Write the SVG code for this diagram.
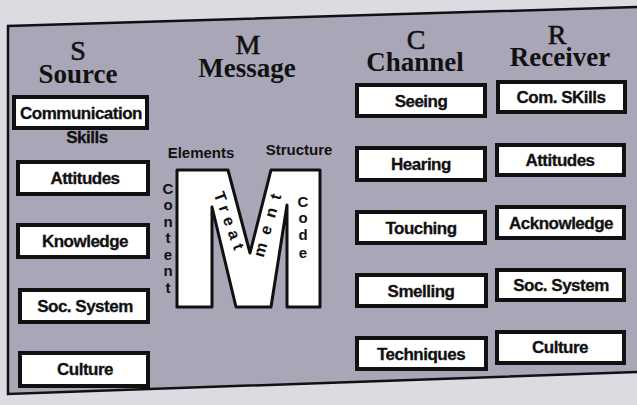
<svg xmlns="http://www.w3.org/2000/svg" width="637" height="405" viewBox="0 0 637 405">
<style>
.box{fill:#ffffff;stroke:#111111;stroke-width:4}
.lbl{font-family:"Liberation Sans",Arial,sans-serif;font-weight:bold;font-size:17px;fill:#111111;stroke:#111111;stroke-width:0.3;text-anchor:middle;letter-spacing:-0.5px}
.big{font-family:"Liberation Serif","Times New Roman",serif;font-size:28px;fill:#111111;stroke:#111111;stroke-width:0.6;text-anchor:middle}
.ttl{font-family:"Liberation Serif","Times New Roman",serif;font-weight:bold;font-size:27px;fill:#111111;text-anchor:middle}
.sm{font-family:"Liberation Sans",Arial,sans-serif;font-weight:bold;font-size:15px;fill:#111111;text-anchor:middle}
.smv{font-family:"Liberation Sans",Arial,sans-serif;font-weight:bold;font-size:16px;fill:#111111}
.frame{fill:none;stroke:#111111;stroke-width:2.5}
</style>
<rect x="0" y="0" width="637" height="405" fill="#dddbe2"/>
<polygon points="8,26 637,7 637,372 8,394" fill="#a9a7b7"/>
<polyline class="frame" points="637,7 8,26 8,394 637,372"/>

<g id="headers">
<text class="big" x="78" y="60">S</text>
<text class="ttl" x="78" y="83">Source</text>
<text class="big" x="248" y="54">M</text>
<text class="ttl" x="247" y="77">Message</text>
<text class="big" x="416" y="49">C</text>
<text class="ttl" x="415" y="71">Channel</text>
<text class="big" x="557" y="44">R</text>
<text class="ttl" x="560" y="66">Receiver</text>
</g>

<g id="source">
<g id="s1"><rect class="box" x="14" y="97" width="133" height="31"/><text class="lbl" x="81" y="119">Communication</text><text class="lbl" x="87" y="143">Skills</text></g>
<g id="s2"><rect class="box" x="18" y="162" width="130" height="32"/><text class="lbl" x="85" y="184">Attitudes</text></g>
<g id="s3"><rect class="box" x="18" y="225" width="130" height="32"/><text class="lbl" x="85" y="247">Knowledge</text></g>
<g id="s4"><rect class="box" x="20" y="290" width="128" height="32"/><text class="lbl" x="85" y="312">Soc. System</text></g>
<g id="s5"><rect class="box" x="20" y="353" width="128" height="33"/><text class="lbl" x="85" y="375">Culture</text></g>
</g>

<g id="channel">
<g id="c1"><rect class="box" x="357" y="85" width="128" height="31"/><text class="lbl" x="421" y="107">Seeing</text></g>
<g id="c2"><rect class="box" x="357" y="148" width="128" height="32"/><text class="lbl" x="421" y="170">Hearing</text></g>
<g id="c3"><rect class="box" x="357" y="212" width="128" height="31"/><text class="lbl" x="421" y="234">Touching</text></g>
<g id="c4"><rect class="box" x="357" y="275" width="129" height="31"/><text class="lbl" x="421" y="297">Smelling</text></g>
<g id="c5"><rect class="box" x="357" y="338" width="129" height="31"/><text class="lbl" x="421" y="360">Techniques</text></g>
</g>

<g id="receiver">
<g id="r1"><rect class="box" x="498" y="82" width="127" height="30"/><text class="lbl" x="561" y="103">Com. SKills</text></g>
<g id="r2"><rect class="box" x="497" y="145" width="127" height="30"/><text class="lbl" x="560" y="166">Attitudes</text></g>
<g id="r3"><rect class="box" x="497" y="207" width="127" height="31"/><text class="lbl" x="561" y="229">Acknowledge</text></g>
<g id="r4"><rect class="box" x="497" y="270" width="127" height="30"/><text class="lbl" x="561" y="291">Soc. System</text></g>
<g id="r5"><rect class="box" x="497" y="332" width="127" height="31"/><text class="lbl" x="560" y="353">Culture</text></g>
</g>

<g id="message">
<polygon points="177,170 228,170 250,253 271,170 320,170 320,307 287,307 287,205 271,307 236,307 212,207 212,307 177,307" fill="#ffffff" stroke="#111111" stroke-width="3" stroke-linejoin="round"/>
<text class="sm" x="201" y="158">Elements</text>
<text class="sm" x="299" y="155">Structure</text>
<g id="content">
<text class="sm" x="168" y="194">C</text>
<text class="sm" x="168" y="210">o</text>
<text class="sm" x="168" y="227">n</text>
<text class="sm" x="168" y="243">t</text>
<text class="sm" x="168" y="260">e</text>
<text class="sm" x="168" y="276">n</text>
<text class="sm" x="168" y="293">t</text>
</g>
<g id="code">
<text class="sm" x="303" y="207">C</text>
<text class="sm" x="303" y="223">o</text>
<text class="sm" x="303" y="240">d</text>
<text class="sm" x="303" y="258">e</text>
</g>
<text class="smv" x="213.6" y="194" letter-spacing="5.6" transform="rotate(70 213.6 194)">Treat</text>
<text class="smv" x="263.5" y="258" letter-spacing="8.9" transform="rotate(-74 263.5 258)">ment</text>
</g>
</svg>
